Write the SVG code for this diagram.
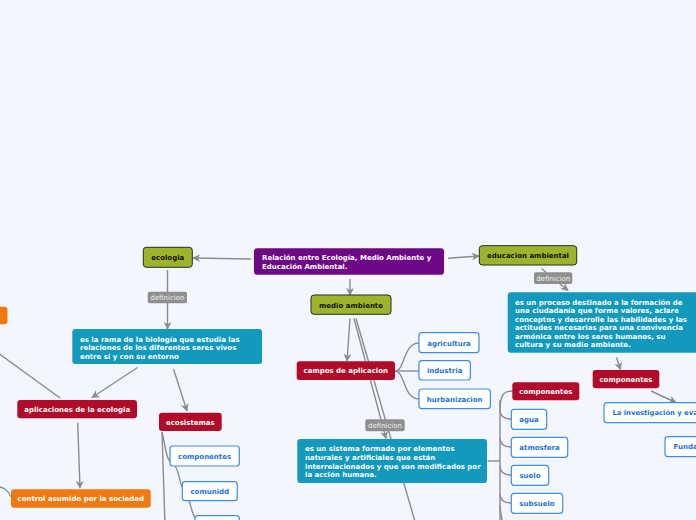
<svg xmlns="http://www.w3.org/2000/svg" width="696" height="520" viewBox="0 0 696 520">
<defs>
<marker id="arr" viewBox="0 0 10 10" refX="9" refY="5" markerWidth="8" markerHeight="8" markerUnits="userSpaceOnUse" orient="auto">
<path d="M0,0 L10,5 L0,10 L3,5 z" fill="#8c8c8c"/>
</marker>
<style>
text{font-family:"DejaVu Sans","Verdana",sans-serif;font-size:7px;font-weight:bold}
.c{text-anchor:middle}
.w{fill:#ffffff}
.k{fill:#111111}
.b{fill:#1c73d8}
.green{fill:#9db42a;stroke:#2a2a2a;stroke-width:1}
.red{fill:#b20b29}
.teal{fill:#1299bd}
.purple{fill:#6d0987}
.orange{fill:#f07a11}
.out{fill:#ffffff;stroke:#3d8ee8;stroke-width:1.2}
.lbl{fill:#8f8f8f}
.lt{fill:#f0f0f0;font-weight:normal;text-anchor:middle}
.ln{fill:none;stroke:#8c8c8c;stroke-width:1.4}
.la{fill:none;stroke:#8c8c8c;stroke-width:1.4;marker-end:url(#arr)}
</style>
</defs>
<rect x="0" y="0" width="696" height="520" fill="#f3f6fe"/>

<g id="connectors">
<path class="la" d="M251,259 L193,258"/>
<path class="la" d="M448,258.3 L479,256"/>
<path class="la" d="M350,279 L350,295"/>
<path class="la" d="M350,318.5 L347,361"/>
<path class="la" d="M354,318.5 L386,438.5"/>
<path class="ln" d="M356,318.5 L416,525"/>
<path class="la" d="M167.5,270 L167.5,329"/>
<path class="la" d="M541.5,268.5 L568,290.5"/>
<path class="la" d="M616.5,357.5 L620.5,369.5"/>
<path class="la" d="M651,391 L676,402.5"/>
<path class="la" d="M137.5,367.5 L92,397.5"/>
<path class="la" d="M173.5,369 L187,411"/>
<path class="ln" d="M-2,353 L60,398"/>
<path class="la" d="M77.7,422.7 L80,488"/>
<path class="ln" d="M-5,486 C4,487 8,490 11,497"/>
<path class="ln" d="M395,371 C405,371 403,343 419,343"/>
<path class="ln" d="M395,371 L419,371"/>
<path class="ln" d="M395,371 C405,371 403,399 419,399"/>
<path class="ln" d="M487.5,461 L500,461"/>
<path class="ln" d="M500,410 C500,396 503,391 512.5,391"/>
<path class="ln" d="M500,400 L500,525"/>
<path class="ln" d="M500,410 C500,416 503,419 511.5,419"/>
<path class="ln" d="M500,438 C500,444 503,447 511.5,447"/>
<path class="ln" d="M500,466 C500,472 503,475 511.5,475"/>
<path class="ln" d="M500,494 C500,500 503,503 511.5,503"/>
<path class="ln" d="M503,525 C501,515 500,510 500,505"/>
<path class="ln" d="M162,432 L165,525"/>
<path class="ln" d="M162,432 C166,448 166,461 173,464 C180,468 178,484 185,492 C191,499 190,510 195,518"/>
</g>

<g id="central">
<rect class="purple" x="254" y="248.3" width="190" height="26.5" rx="3"/>
<text class="w" x="262" y="260">Relación entre Ecología, Medio Ambiente y</text>
<text class="w" x="262" y="269">Educación Ambiental.</text>
</g>

<g id="ecologia">
<rect class="green" x="143.3" y="247.3" width="49" height="20" rx="3"/>
<text class="k c" x="167.8" y="260">ecologia</text>
</g>

<g id="educacion">
<rect class="green" x="479.3" y="245.7" width="97.4" height="19.3" rx="3"/>
<text class="k c" x="528" y="258">educacion ambiental</text>
</g>

<g id="medio">
<rect class="green" x="311" y="295" width="80" height="19.3" rx="3"/>
<text class="k c" x="351" y="307.8">medio ambiente</text>
</g>

<g id="lbl-eco">
<rect class="lbl" x="147.7" y="291.7" width="39.3" height="11.6" rx="2"/>
<text class="lt" x="167.4" y="300">definicion</text>
</g>

<g id="lbl-edu">
<rect class="lbl" x="534" y="272.3" width="38.3" height="11.7" rx="2"/>
<text class="lt" x="553.2" y="280.7">definicion</text>
</g>

<g id="lbl-medio">
<rect class="lbl" x="365.3" y="419.3" width="39.4" height="12" rx="2"/>
<text class="lt" x="385" y="427.8">definicion</text>
</g>

<g id="def-eco">
<rect class="teal" x="72.3" y="329" width="189.7" height="35" rx="3"/>
<text class="w" x="80" y="341.5">es la rama de la biología que estudia las</text>
<text class="w" x="80" y="350.2">relaciones de los diferentes seres vivos</text>
<text class="w" x="80" y="358.5">entre si y con su entorno</text>
</g>

<g id="def-edu">
<rect class="teal" x="507.7" y="292.3" width="190" height="60.4" rx="3"/>
<text class="w" x="515" y="304.5">es un proceso destinado a la formación de</text>
<text class="w" x="515" y="313.2">una ciudadanía que forme valores, aclare</text>
<text class="w" x="515" y="321.5">conceptos y desarrolle las habilidades y las</text>
<text class="w" x="515" y="329.8">actitudes necesarias para una convivencia</text>
<text class="w" x="515" y="338.5">armónica entre los seres humanos, su</text>
<text class="w" x="515" y="347.2">cultura y su medio ambiente.</text>
</g>

<g id="def-medio">
<rect class="teal" x="297.3" y="439" width="189.7" height="44" rx="3"/>
<text class="w" x="305" y="451.2">es un sistema formado por elementos</text>
<text class="w" x="305" y="459.8">naturales y artificiales que están</text>
<text class="w" x="305" y="468.5">interrelacionados y que son modificados por</text>
<text class="w" x="305" y="477.2">la acción humana.</text>
</g>

<g id="orange-left">
<rect class="orange" x="-40" y="306.7" width="47.5" height="17.6" rx="3"/>
</g>

<g id="aplicaciones">
<rect class="red" x="17.3" y="400" width="119.7" height="18.3" rx="3"/>
<text class="w c" x="77.2" y="411.8">aplicaciones de la ecologia</text>
</g>

<g id="ecosistemas">
<rect class="red" x="159" y="412.7" width="62.7" height="18.3" rx="3"/>
<text class="w c" x="190.3" y="424.5">ecosistemas</text>
</g>

<g id="control">
<rect class="orange" x="11" y="489.3" width="139.7" height="18.4" rx="3"/>
<text class="w c" x="80.8" y="501">control asumido por la sociedad</text>
</g>

<g id="campos">
<rect class="red" x="296.7" y="361.3" width="98.3" height="18.7" rx="3"/>
<text class="w c" x="345.8" y="373.2">campos de aplicacion</text>
</g>

<g id="agricultura">
<rect class="out" x="419" y="332.7" width="60" height="20" rx="3"/>
<text class="b c" x="449" y="345.6">agricultura</text>
</g>

<g id="industria">
<rect class="out" x="419" y="360.7" width="51.4" height="19.3" rx="3"/>
<text class="b c" x="444.7" y="373.2">industria</text>
</g>

<g id="hurbanizacion">
<rect class="out" x="419" y="389" width="71.4" height="19.7" rx="3"/>
<text class="b c" x="454.7" y="401.6">hurbanizacion</text>
</g>

<g id="componentes-medio">
<rect class="red" x="512.3" y="382.3" width="67" height="18" rx="3"/>
<text class="w c" x="545.8" y="394">componentes</text>
</g>

<g id="agua">
<rect class="out" x="511.3" y="409.3" width="35.4" height="20" rx="3"/>
<text class="b c" x="529" y="422">agua</text>
</g>

<g id="atmosfera">
<rect class="out" x="511.3" y="437.3" width="56.4" height="20" rx="3"/>
<text class="b c" x="539.5" y="450">atmosfera</text>
</g>

<g id="suelo">
<rect class="out" x="511.3" y="465.3" width="37.4" height="20" rx="3"/>
<text class="b c" x="530" y="478">suelo</text>
</g>

<g id="subsuelo">
<rect class="out" x="511.3" y="493.3" width="51.4" height="20" rx="3"/>
<text class="b c" x="537" y="506">subsuelo</text>
</g>

<g id="componentes-edu">
<rect class="red" x="592.7" y="370" width="66.6" height="18.3" rx="3"/>
<text class="w c" x="626" y="381.8">componentes</text>
</g>

<g id="investigacion">
<rect class="out" x="604" y="402.7" width="110" height="20" rx="3"/>
<text class="b" x="612.5" y="415.4" style="font-size:6.8px">La investigación y eva</text>
</g>

<g id="funda">
<rect class="out" x="665" y="436.7" width="60" height="20" rx="3"/>
<text class="b" x="673.5" y="449.4">Funda</text>
</g>

<g id="componentes-eco">
<rect class="out" x="170" y="446" width="69.3" height="20" rx="3"/>
<text class="b c" x="204.6" y="458.7">componentes</text>
</g>

<g id="comunidd">
<rect class="out" x="182.3" y="481.7" width="55" height="19" rx="3"/>
<text class="b c" x="209.8" y="493.9">comunidd</text>
</g>

<g id="eco-third">
<rect class="out" x="195" y="515.7" width="44.3" height="20" rx="3"/>
</g>
</svg>
